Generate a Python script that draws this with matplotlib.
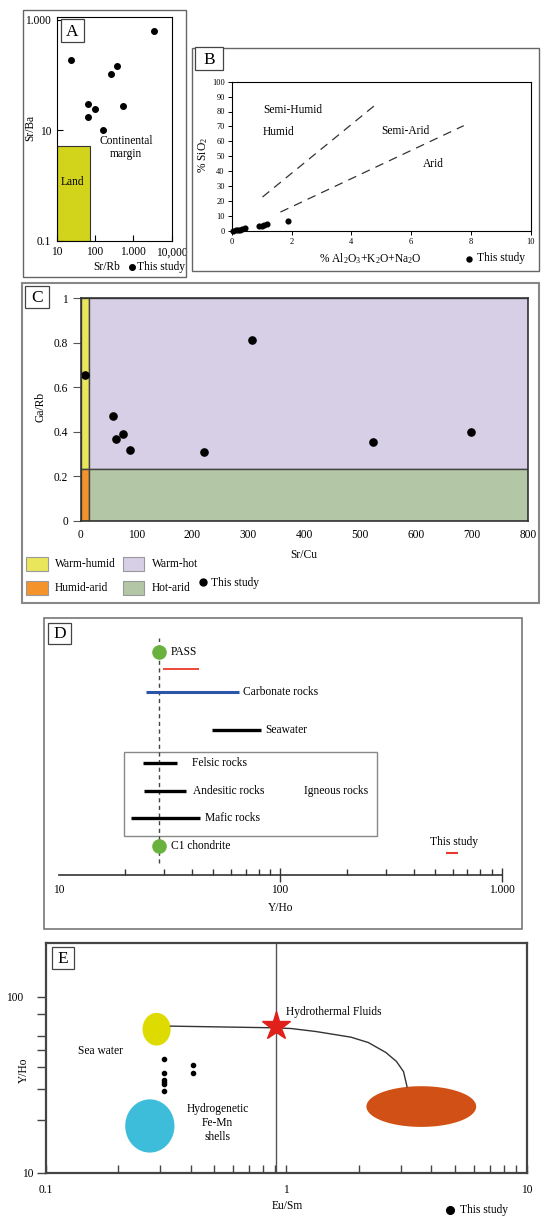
import numpy as np
import matplotlib.pyplot as plt
from matplotlib.patches import Rectangle
from matplotlib.lines import Line2D
from matplotlib.ticker import NullFormatter, NullLocator

plt.rcParams['font.family'] = 'serif'
plt.rcParams['font.serif'] = ['Liberation Serif', 'DejaVu Serif']
plt.rcParams['mathtext.fontset'] = 'custom'
plt.rcParams['mathtext.rm'] = 'Liberation Serif'
plt.rcParams['mathtext.it'] = 'Liberation Serif:italic'

W, H = 550, 1225
FS = 8.3

# --- A: Sr/Rb vs Sr/Ba
a_sr_rb = [3470, 23.2, 262, 369, 64.4, 98, 64.4, 528, 159]
a_sr_ba = [631, 183, 105, 147, 29.6, 24.1, 17.3, 27.3, 9.86]
a_land_x = [10, 74]
a_land_y = [0.1, 5.2]

# --- B: oxides vs SiO2
b_oxides = [0.05, 0.13, 0.2, 0.28, 0.35, 0.45, 0.92, 1.0, 1.08, 1.17, 1.87]
b_sio2 = [0.1, 0.4, 0.6, 0.8, 1.1, 1.6, 3.1, 3.4, 3.9, 4.6, 6.7]
b_line1_x = [1.03, 4.9]
b_line1_y = [22.6, 86]
b_line2_x = [1.63, 7.76]
b_line2_y = [12.5, 70.5]

# --- C: Sr/Cu vs Ga/Rb
c_sr_cu = [7.5, 306, 58, 63, 76, 88, 221, 522, 698]
c_ga_rb = [0.654, 0.814, 0.471, 0.369, 0.39, 0.316, 0.309, 0.352, 0.40]
c_split_x = 15
c_split_y = 0.233
c_regions = ['Warm-humid', 'Warm-hot', 'Humid-arid', 'Hot-arid']
c_colors = ['#e9e65c', '#d7cfe6', '#f39329', '#b3c6a6']

# --- D: Y/Ho ranges
d_ref_names = ['PASS', 'C1 chondrite']
d_ref_x = [28.5, 28.5]
d_ref_row = [223.6, 29.3]
d_names = ['', 'Carbonate rocks', 'Seawater', 'Felsic rocks', 'Andesitic rocks', 'Mafic rocks']
d_lo = [29.5, 24.9, 49.2, 24.1, 24.4, 21.3]
d_hi = [43.0, 65.1, 82.0, 34.4, 37.7, 43.5]
d_row = [206, 183, 145.3, 112.6, 84, 57.3]
d_label_x = [None, 68.2, 86.1, 40.2, 40.6, 45.7]
d_colors = ['#e8392a', '#2a55a8', 'black', 'black', 'black', 'black']
d_widths = [1.3, 2.2, 2.4, 2.4, 2.4, 2.4]
d_study = [562, 636]
d_study_row = 22.6
d_igneous_x = [19.8, 273]
d_igneous_row = [39.6, 123]

# --- E: Eu/Sm vs Y/Ho
e_eu_sm = [0.311, 0.311, 0.311, 0.311, 0.311, 0.311, 0.409, 0.409]
e_y_ho = [44.4, 36.9, 33.8, 32.8, 31.9, 29.3, 41.1, 36.9]
e_ell_names = ['Sea water', 'Hydrogenetic', 'Hydrothermal']
e_ell_x = [(0.2528, 0.3307), (0.2142, 0.3430), (2.152, 6.15)]
e_ell_y = [(52.8, 80.8), (13.1, 26.2), (18.3, 31.1)]
e_ell_colors = ['#dedb00', '#3dbdda', '#d05015']
e_star = (0.91, 68.2)
e_mix_x = [0.3305, 0.91, 1.048, 1.326, 1.855, 2.193, 2.594, 2.869, 3.069, 3.174]
e_mix_y = [68.0, 66.5, 65.9, 63.4, 58.9, 54.9, 48.2, 42.9, 37.6, 30.9]

fig = plt.figure(figsize=(5.5, 12.25), dpi=100)


def box_axes(x0, y0, x1, y1):
    return fig.add_axes([x0 / W, 1 - y1 / H, (x1 - x0) / W, (y1 - y0) / H])


def frame(x0, y0, x1, y1, color='#666666', lw=1.0, fc=None, z=1):
    r = Rectangle((x0 / W, 1 - y1 / H), (x1 - x0) / W, (y1 - y0) / H,
                  transform=fig.transFigure, fill=fc is not None,
                  fc=fc if fc else 'none', ec=color, lw=lw, zorder=z)
    fig.add_artist(r)


def ftext(px, py, s, **kw):
    kw.setdefault('fontsize', FS)
    kw.setdefault('va', 'center')
    fig.text(px / W, 1 - py / H, s, **kw)


def fdot(px, py, ms):
    fig.add_artist(Line2D([px / W], [1 - py / H], marker='o', ms=ms, color='black',
                          ls='none', transform=fig.transFigure, zorder=5))


def letter(x0, y0, x1, y1, s):
    frame(x0, y0, x1, y1, color='#444444', lw=0.9, fc='white', z=5)
    ftext((x0 + x1) / 2, (y0 + y1) / 2 + 1, s, fontsize=12.5, ha='center', zorder=6)


# ================= A
frame(22.7, 10, 186, 277.3)
axA = box_axes(56.7, 17.3, 171.7, 240.7)
axA.set_xscale('log')
axA.set_yscale('log')
axA.add_patch(Rectangle((a_land_x[0], a_land_y[0]), a_land_x[1] - a_land_x[0],
                        a_land_y[1] - a_land_y[0], fc='#d2d41c', ec='#333333', lw=0.8))
axA.plot(a_sr_rb, a_sr_ba, 'o', color='black', ms=4)
axA.text(645, 4.9, 'Continental\nmargin', ha='center', va='center', fontsize=FS, linespacing=1.15)
axA.text(25.1, 1.16, 'Land', ha='center', va='center', fontsize=FS)
axA.set_xlim(10, 10000)
axA.set_ylim(0.1, 1100)
axA.set_xticks([10, 100, 1000, 10000], ['10', '100', '1.000', '10,000'])
axA.set_yticks([0.1, 10, 1000], ['0.1', '10', '1.000'])
for axis in (axA.xaxis, axA.yaxis):
    axis.set_minor_locator(NullLocator())
axA.tick_params(direction='in', length=4, labelsize=FS, pad=4, width=0.8)
for sp in axA.spines.values():
    sp.set_linewidth(0.8)
letter(61, 19, 84, 42, 'A')
ftext(106.7, 266.7, 'Sr/Rb', ha='center')
fdot(131.7, 267.2, 4)
ftext(136.7, 266.7, 'This study', ha='left')
ftext(30, 128, 'Sr/Ba', rotation=90, ha='center')

# ================= B
frame(191.7, 48.3, 539, 270.7)
axB = box_axes(231.7, 81.7, 530.7, 230.7)
axB.plot(b_line1_x, b_line1_y, color='#333333', lw=0.9, dashes=(7, 5))
axB.plot(b_line2_x, b_line2_y, color='#333333', lw=0.9, dashes=(7, 5))
axB.plot(b_oxides, b_sio2, 'o', color='black', ms=3.4, clip_on=False)
axB.text(1.04, 80.7, 'Semi-Humid', va='center', fontsize=FS)
axB.text(1.04, 66, 'Humid', va='center', fontsize=FS)
axB.text(5.0, 66.6, 'Semi-Arid', va='center', fontsize=FS)
axB.text(6.4, 45, 'Arid', va='center', fontsize=FS)
axB.set_xlim(0, 10)
axB.set_ylim(0, 100)
axB.set_xticks(np.arange(0, 11, 2))
axB.set_yticks(np.arange(0, 101, 10))
axB.tick_params(direction='out', length=3, labelsize=6, pad=2, width=0.7)
for sp in axB.spines.values():
    sp.set_linewidth(0.8)
letter(195, 47.3, 223, 70, 'B')
ftext(370, 258.3, '% Al$_2$O$_3$+K$_2$O+Na$_2$O', ha='center')
fdot(469.3, 258.8, 3.6)
ftext(477.3, 258.3, 'This study', ha='left')
ftext(203.3, 155, '% SiO$_2$', rotation=90, ha='center')

# ================= C
frame(21.8, 283.3, 539.3, 603.3, color='#888888', lw=1.5)
axC = box_axes(80.7, 298.3, 528.1, 520.7)
c_rects = [(0, c_split_y, c_split_x, 1 - c_split_y),
           (c_split_x, c_split_y, 800 - c_split_x, 1 - c_split_y),
           (0, 0, c_split_x, c_split_y),
           (c_split_x, 0, 800 - c_split_x, c_split_y)]
for (x0, y0, w, h), col in zip(c_rects, c_colors):
    axC.add_patch(Rectangle((x0, y0), w, h, fc=col, ec='#444444', lw=1.0))
axC.plot(c_sr_cu, c_ga_rb, 'o', color='black', ms=5.2)
axC.set_xlim(0, 800)
axC.set_ylim(0, 1)
axC.set_xticks(np.arange(0, 801, 100))
axC.set_yticks([0, 0.2, 0.4, 0.6, 0.8, 1.0], ['0', '0.2', '0.4', '0.6', '0.8', '1'])
axC.tick_params(axis='x', length=0, labelsize=FS, pad=6)
axC.tick_params(axis='y', direction='out', length=6, labelsize=FS, pad=3, color='#555555')
for sp in axC.spines.values():
    sp.set_linewidth(1.2)
    sp.set_color('#333333')
letter(25.3, 286, 49.1, 307.7, 'C')
ftext(304, 555, 'Sr/Cu', ha='center')
ftext(40.4, 407, 'Ga/Rb', rotation=90, ha='center')
leg_pos = [(26, 556.7), (122.7, 556.7), (26, 580.7), (122.7, 580.7)]
for (px, py), name, col in zip(leg_pos, c_regions, c_colors):
    frame(px, py, px + 21.7, py + 14.3, color='#999999', lw=0.8, fc=col)
    ftext(px + 29, py + 7.5, name, ha='left')
fdot(203.3, 581.7, 5)
ftext(210.7, 582.7, 'This study', ha='left')

# ================= D
frame(43.9, 618.3, 522.3, 929, color='#777777', lw=1.2)
axD = box_axes(58.6, 618.3, 501.7, 875.3)
axD.patch.set_alpha(0)
axD.set_xscale('log')
axD.set_xlim(10, 1000)
axD.set_ylim(0, 257)
axD.plot([d_ref_x[0], d_ref_x[0]], [12.3, 237.3], color='#444444', lw=1.0, dashes=(3, 2.5))
axD.add_patch(Rectangle((d_igneous_x[0], d_igneous_row[0]), d_igneous_x[1] - d_igneous_x[0],
                        d_igneous_row[1] - d_igneous_row[0], fill=False, ec='#888888', lw=1.0))
for lo, hi, row, col, lw, name, lx in zip(d_lo, d_hi, d_row, d_colors, d_widths, d_names, d_label_x):
    axD.plot([lo, hi], [row, row], color=col, lw=lw, solid_capstyle='butt')
    if lx is not None:
        axD.text(lx, row, name, va='center', fontsize=FS)
axD.plot(d_ref_x, d_ref_row, 'o', color='#6ab23e', ms=9.5, zorder=4)
for x, row, name in zip(d_ref_x, d_ref_row, d_ref_names):
    axD.text(32.1, row, name, va='center', fontsize=FS)
axD.text(477, 33, 'This study', va='center', fontsize=FS)
axD.plot(d_study, [d_study_row, d_study_row], color='#e8392a', lw=1.5, solid_capstyle='butt')
axD.text(127.7, 84, 'Igneous rocks', va='center', fontsize=FS)
for side in ('top', 'left', 'right'):
    axD.spines[side].set_visible(False)
axD.spines['bottom'].set_color('#333333')
axD.spines['bottom'].set_linewidth(1.2)
axD.set_yticks([])
axD.set_xticks([10, 100, 1000], ['10', '100', '1.000'])
axD.xaxis.set_minor_formatter(NullFormatter())
axD.tick_params(axis='x', which='major', direction='inout', length=10, width=1.0,
                labelsize=FS, pad=1, color='#333333')
axD.tick_params(axis='x', which='minor', direction='in', length=4.5, width=1.0, color='#333333')
axD.xaxis.get_major_ticks()[0].tick1line.set_visible(False)
letter(48.4, 622.7, 71.2, 644, 'D')
ftext(280.7, 908.3, 'Y/Ho', ha='center')

# ================= E
axE = box_axes(45.6, 943.3, 527, 1173.3)
axE.set_xscale('log')
axE.set_yscale('log')
t = np.linspace(0, 2 * np.pi, 200)
for (x0, x1), (y0, y1), col in zip(e_ell_x, e_ell_y, e_ell_colors):
    lx0, lx1, ly0, ly1 = np.log10([x0, x1, y0, y1])
    ex = 10 ** ((lx0 + lx1) / 2 + (lx1 - lx0) / 2 * np.cos(t))
    ey = 10 ** ((ly0 + ly1) / 2 + (ly1 - ly0) / 2 * np.sin(t))
    axE.fill(ex, ey, color=col, lw=0, zorder=2)
axE.axvline(e_star[0], color='#555555', lw=1.0, zorder=1)
axE.plot(e_mix_x, e_mix_y, color='#333333', lw=1.0, zorder=3)
axE.plot([e_star[0]], [e_star[1]], marker='*', color='#e0211b', ms=21, ls='none', zorder=5)
axE.plot(e_eu_sm, e_y_ho, 'o', color='black', ms=3.0, zorder=4)
axE.text(0.1362, 49.5, 'Sea water', va='center', fontsize=FS)
axE.text(0.518, 19.2, 'Hydrogenetic\nFe-Mn\nshells', ha='center', va='center', fontsize=FS,
         linespacing=1.2)
axE.text(1.0, 81.9, 'Hydrothermal Fluids', va='center', fontsize=FS)
axE.set_xlim(0.1, 10)
axE.set_ylim(10, 200)
axE.set_xticks([0.1, 1, 10], ['0.1', '1', '10'])
axE.set_yticks([10, 100], ['', '100'])
axE.set_yticks([20, 30, 40, 50, 60, 80], minor=True)
axE.xaxis.set_minor_formatter(NullFormatter())
axE.yaxis.set_minor_formatter(NullFormatter())
axE.tick_params(axis='x', which='both', direction='in', length=6, width=1.0,
                labelsize=FS, pad=8, color='#444444')
axE.tick_params(axis='y', which='both', direction='out', length=6.3, width=1.0,
                labelsize=FS, pad=9.5, color='#444444')
for sp in axE.spines.values():
    sp.set_linewidth(1.6)
    sp.set_color('#444444')
letter(51.6, 947.3, 74.4, 969, 'E')
ftext(27.5, 1174, '10', ha='center')
ftext(287.7, 1206, 'Eu/Sm', ha='center')
ftext(23.9, 1070, 'Y/Ho', rotation=90, ha='center')
fdot(450, 1210, 5.5)
ftext(459.6, 1210, 'This study', ha='left')

fig.savefig('out.png', dpi=100)
